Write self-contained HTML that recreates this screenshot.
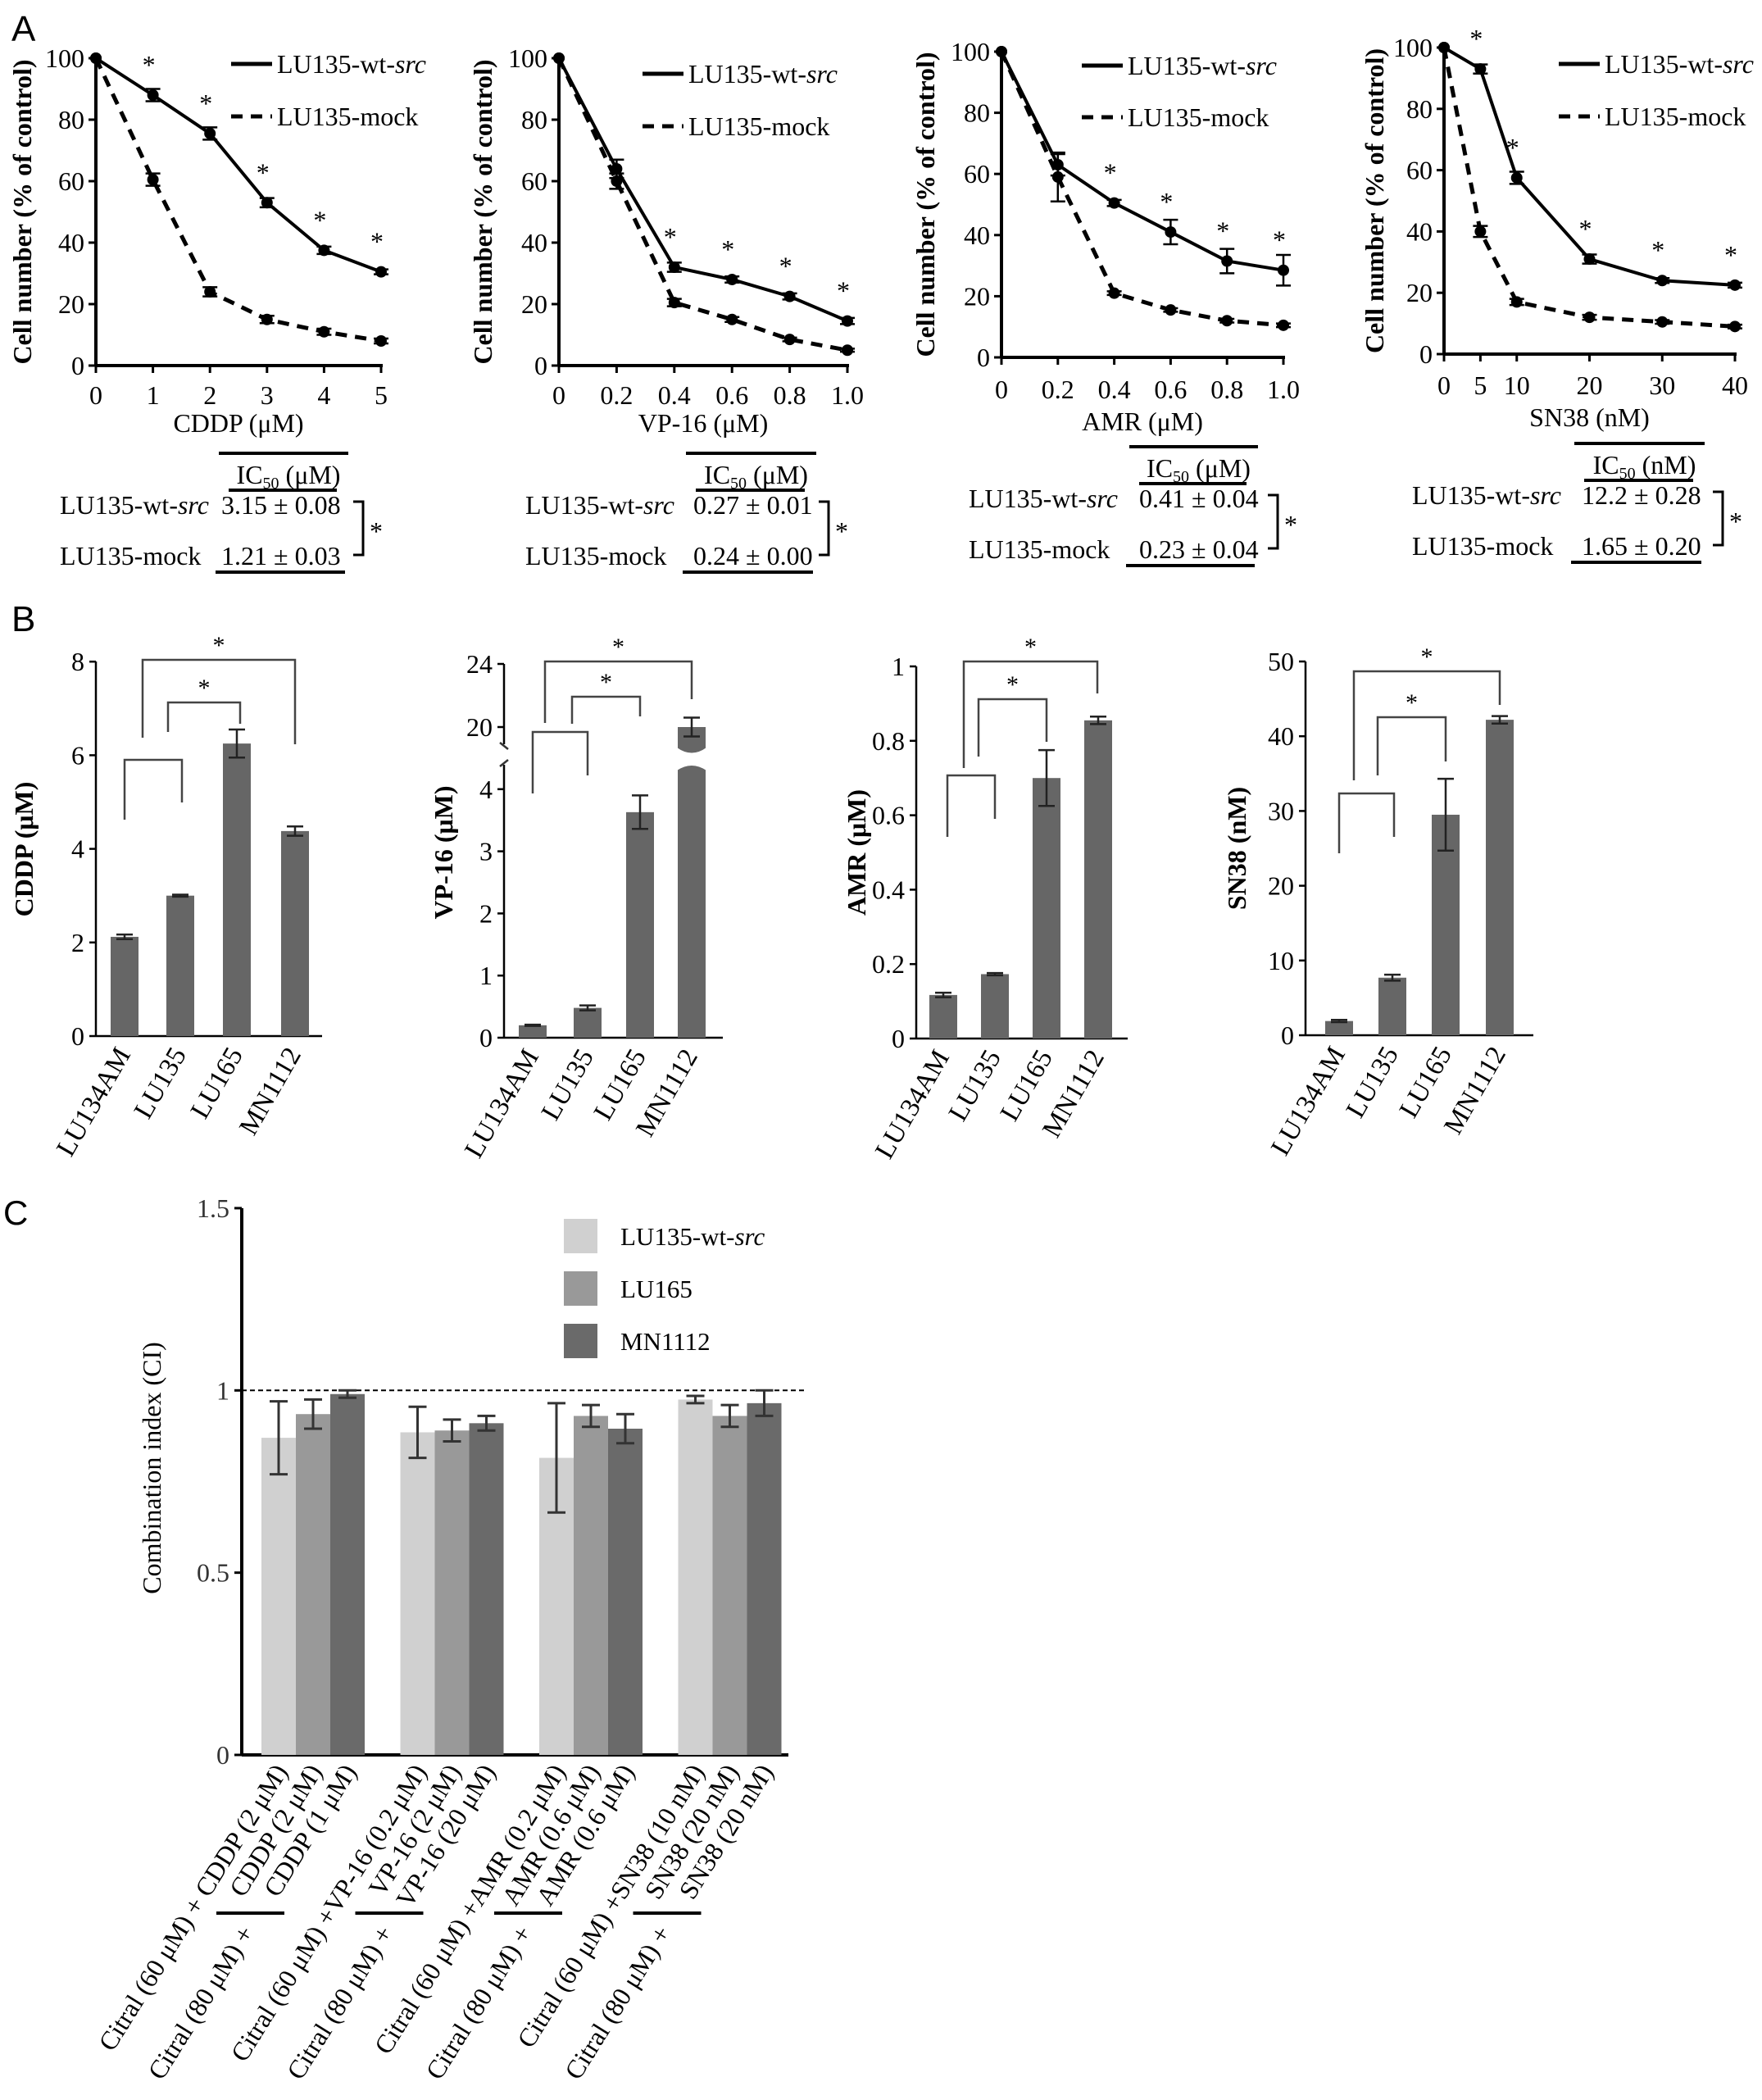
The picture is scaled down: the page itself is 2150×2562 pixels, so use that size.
<!DOCTYPE html>
<html><head><meta charset="utf-8"><style>
html,body{margin:0;padding:0;background:#fff;}
svg{display:block;font-family:"Liberation Serif",serif;}
</style></head>
<body>
<svg id="fig" xmlns="http://www.w3.org/2000/svg" width="2150" height="2562" viewBox="0 0 2150 2562">
<rect width="2150" height="2562" fill="#fff"/>
<text x="14" y="50" font-family="Liberation Sans,sans-serif" font-size="44">A</text>
<text x="14" y="770" font-family="Liberation Sans,sans-serif" font-size="44">B</text>
<text x="4" y="1494" font-family="Liberation Sans,sans-serif" font-size="42">C</text>
</svg>
<script>
// ---------- Panel A data ----------
const aXCddp = [0,1,2,3,4,5];
const aWtCddp = [100,88,75.5,53,37.5,30.5];
const aMockCddp = [100,60.5,24,15,11,8];
const aWtErrCddp = [0,2,2,1.5,1.2,0.8];
const aMockErrCddp = [0,2,1.5,1.2,1,0.8];
const aXVp = [0,0.2,0.4,0.6,0.8,1.0];
const aWtVp = [100,64,32,28,22.5,14.5];
const aMockVp = [100,60,20.5,15,8.5,5];
const aWtErrVp = [0,3,1.5,1,1,1];
const aMockErrVp = [0,2.5,1.2,0.8,0.6,0.5];
const aXAmr = [0,0.2,0.4,0.6,0.8,1.0];
const aWtAmr = [100,63,50.5,41,31.5,28.5];
const aMockAmr = [100,59,21,15.5,12,10.5];
const aWtErrAmr = [0,3.5,1,4,4,5];
const aMockErrAmr = [0,8,0.6,0.6,0.6,0.6];
const aXSn = [0,5,10,20,30,40];
const aWtSn = [100,93,57.5,31,24,22.5];
const aMockSn = [100,40,17,12,10.5,9];
const aWtErrSn = [0,1.5,2,1.5,0.8,0.8];
const aMockErrSn = [0,1.8,1,0.8,0.6,0.6];
const aYTicks = [0,20,40,60,80,100];
const aTickCddp = ["0","1","2","3","4","5"];
const aTickVp = ["0","0.2","0.4","0.6","0.8","1.0"];
const aTickSn = ["0","5","10","20","30","40"];
// ---------- Panel B data ----------
const bCats = ["LU134AM","LU135","LU165","MN1112"];
const bCddp = [2.12,3.0,6.25,4.38];
const bCddpErr = [0.05,0.02,0.3,0.1];
const bVp = [0.2,0.48,3.63,20];
const bVpErr = [0.01,0.04,0.27,0.6];
const bAmr = [0.117,0.173,0.70,0.855];
const bAmrErr = [0.006,0.003,0.075,0.01];
const bSn = [1.9,7.7,29.5,42.2];
const bSnErr = [0.15,0.4,4.8,0.5];
// ---------- Panel C data ----------
const cWt = [0.87,0.885,0.815,0.975];
const cWtErr = [0.1,0.07,0.15,0.01];
const cLu165 = [0.935,0.89,0.93,0.93];
const cLu165Err = [0.04,0.03,0.03,0.03];
const cMn = [0.99,0.91,0.895,0.965];
const cMnErr = [0.01,0.02,0.04,0.035];
const cYTicks = [0,0.5,1,1.5];
const cYTickLabels = ["0","0.5","1","1.5"];
const cFirstLabels = ["Citral (60 \u03bcM) + CDDP (2 \u03bcM)","Citral (60 \u03bcM) +VP-16 (0.2 \u03bcM)","Citral (60 \u03bcM) +AMR (0.2 \u03bcM)","Citral (60 \u03bcM) +SN38 (10 nM)"];
const cSecondLabels = ["CDDP (2 \u03bcM)","VP-16 (2 \u03bcM)","AMR (0.6 \u03bcM)","SN38 (20 nM)"];
const cThirdLabels = ["CDDP (1 \u03bcM)","VP-16 (20 \u03bcM)","AMR (0.6 \u03bcM)","SN38 (20 nM)"];

const NS="http://www.w3.org/2000/svg";
const svg=document.getElementById('fig');
function el(tag,attrs,parent){const e=document.createElementNS(NS,tag);for(const k in attrs)e.setAttribute(k,attrs[k]);(parent||svg).appendChild(e);return e;}
function txt(s,attrs,parent){const e=el('text',attrs,parent);e.textContent=s;return e;}
function tsp(s,attrs,parent){const e=el('tspan',attrs,parent);e.textContent=s;return e;}
function line(x1,y1,x2,y2,w,parent,extra){const a={x1,y1,x2,y2,stroke:'#000','stroke-width':w};if(extra)for(const k in extra)a[k]=extra[k];return el('line',a,parent);}
function wtLabel(attrs,parent){const t=el('text',attrs,parent);tsp('LU135-wt-',{},t);tsp('src',{'font-style':'italic'},t);return t;}

// ---------- Panel A ----------
function lineChart(cfg){
  const g=el('g',{});
  
  
  const xs=v=>cfg.x0+(v-cfg.xmin)/(cfg.xmax-cfg.xmin)*(cfg.x1-cfg.x0);
  const ys=v=>cfg.y0-v/100*(cfg.y0-cfg.y100);
  line(cfg.x0,cfg.y100-2,cfg.x0,cfg.y0,4,g);
  line(cfg.x0,cfg.y0,cfg.x1+2,cfg.y0,4,g);
  aYTicks.forEach(t=>{line(cfg.x0-9,ys(t),cfg.x0,ys(t),3,g);
    const tl=txt(String(t),{x:cfg.x0-14,y:ys(t)+11,'font-size':32,'text-anchor':'end'},g);
    });
  cfg.xv.forEach((v,i)=>{line(xs(v),cfg.y0,xs(v),cfg.y0+9,3,g);
    const tl=txt(cfg.tickLabels[i],{x:xs(v),y:cfg.tickY,'font-size':32,'text-anchor':'middle'},g);
    });
  const xt=txt(cfg.xTitle,{x:(cfg.x0+cfg.x1)/2,y:cfg.titleY,'font-size':32,'text-anchor':'middle'},g);
  
  const yt=txt('Cell number (% of control)',{x:0,y:0,'font-size':32,'font-weight':'bold','text-anchor':'middle',transform:`translate(${cfg.yTitleX},${(cfg.y0+cfg.y100)/2}) rotate(-90)`},g);
  
  function series(vals,errs,dash,nm){
    const pts=cfg.xv.map((v,i)=>xs(v)+','+ys(vals[i])).join(' ');
    const p=el('polyline',{points:pts,fill:'none',stroke:'#000','stroke-width':dash?5:4,'stroke-dasharray':dash?'14 10':'none'},g);
    
    cfg.xv.forEach((v,i)=>{
      const c=el('circle',{cx:xs(v),cy:ys(vals[i]),r:7,fill:'#000'},g);
      
      if(errs[i]>0){const x=xs(v),a=ys(vals[i]+errs[i]),b=ys(vals[i]-errs[i]);
        line(x,a,x,b,2.5,g);line(x-9,a,x+9,a,2.5,g);line(x-9,b,x+9,b,2.5,g);}
    });
  }
  series(cfg.mock,cfg.mockErr,true,'mock');
  series(cfg.wt,cfg.wtErr,false,'wt-src');
  cfg.xv.forEach((v,i)=>{if(i>=cfg.starFrom){const s=txt('*',{x:xs(v)-5,y:ys(cfg.wt[i])-26,'font-size':32,'text-anchor':'middle'},g);
    }});
  const L=cfg.leg;
  line(L.x,L.y1,L.x+50,L.y1,5,g);
  line(L.x,L.y2,L.x+50,L.y2,5,g,{'stroke-dasharray':'14 10'});
  const l1=wtLabel({x:L.x+56,y:L.y1+11,'font-size':32},g);
  
  const l2=txt('LU135-mock',{x:L.x+56,y:L.y2+11,'font-size':32},g);
  
  const T=cfg.tab;
  const tg=el('g',{},g);
  
  line(T.lx0,T.top,T.lx1,T.top,4,tg);
  const h=el('text',{x:(T.lx0+T.lx1)/2+6,y:T.top+37,'font-size':32,'text-anchor':'middle'},tg);
  tsp('IC',{},h);tsp('50',{'font-size':20,dy:6},h);tsp(' ('+T.unit+')',{dy:-6},h);
  line(T.lx0+12,T.top+45,T.lx1-14,T.top+45,4,tg);
  wtLabel({x:T.labX,y:T.top+74,'font-size':32},tg);
  txt('LU135-mock',{x:T.labX,y:T.top+136,'font-size':32},tg);
  txt(T.v1,{x:T.valX,y:T.top+74,'font-size':32},tg);
  txt(T.v2,{x:T.valX,y:T.top+136,'font-size':32},tg);
  line(T.lx0-4,T.top+145,T.lx1-4,T.top+145,4,tg);
  el('polyline',{points:`${T.bx-12},${T.top+59} ${T.bx},${T.top+59} ${T.bx},${T.top+124} ${T.bx-12},${T.top+124}`,fill:'none',stroke:'#000','stroke-width':3},tg);
  txt('*',{x:T.bx+16,y:T.top+106,'font-size':32,'text-anchor':'middle'},tg);
}
lineChart({name:'chart-a-cddp',starFrom:1,x0:117,x1:465,xmin:0,xmax:5,y0:446,y100:71,xv:aXCddp,tickLabels:aTickCddp,wt:aWtCddp,mock:aMockCddp,wtErr:aWtErrCddp,mockErr:aMockErrCddp,xTitle:'CDDP (\u03bcM)',tickY:493,titleY:527,yTitleX:38,
  leg:{x:282,y1:78,y2:142},tab:{top:553,lx0:267,lx1:425,labX:73,valX:270,bx:443,unit:'\u03bcM',v1:'3.15 \u00b1 0.08',v2:'1.21 \u00b1 0.03'}});
lineChart({name:'chart-a-vp16',starFrom:2,x0:682,x1:1034,xmin:0,xmax:1,y0:446,y100:71,xv:aXVp,tickLabels:aTickVp,wt:aWtVp,mock:aMockVp,wtErr:aWtErrVp,mockErr:aMockErrVp,xTitle:'VP-16 (\u03bcM)',tickY:493,titleY:527,yTitleX:600,
  leg:{x:784,y1:90,y2:154},tab:{top:553,lx0:837,lx1:996,labX:641,valX:846,bx:1011,unit:'\u03bcM',v1:'0.27 \u00b1 0.01',v2:'0.24 \u00b1 0.00'}});
lineChart({name:'chart-a-amr',starFrom:2,x0:1222,x1:1566,xmin:0,xmax:1,y0:436,y100:63,xv:aXAmr,tickLabels:aTickVp,wt:aWtAmr,mock:aMockAmr,wtErr:aWtErrAmr,mockErr:aMockErrAmr,xTitle:'AMR (\u03bcM)',tickY:486,titleY:525,yTitleX:1140,
  leg:{x:1320,y1:80,y2:143},tab:{top:545,lx0:1378,lx1:1535,labX:1182,valX:1390,bx:1559,unit:'\u03bcM',v1:'0.41 \u00b1 0.04',v2:'0.23 \u00b1 0.04'}});
lineChart({name:'chart-a-sn38',starFrom:1,x0:1762,x1:2117,xmin:0,xmax:40,y0:432,y100:58,xv:aXSn,tickLabels:aTickSn,wt:aWtSn,mock:aMockSn,wtErr:aWtErrSn,mockErr:aMockErrSn,xTitle:'SN38 (nM)',tickY:481,titleY:520,yTitleX:1688,
  leg:{x:1902,y1:78,y2:142},tab:{top:541,lx0:1921,lx1:2080,labX:1723,valX:1930,bx:2102,unit:'nM',v1:'12.2 \u00b1 0.28',v2:'1.65 \u00b1 0.20'}});

// ---------- Panel B ----------
function barChart(cfg){
  const g=el('g',{});
  
  
  const ys=cfg.ys;
  if(cfg.broken){
    line(cfg.x0,cfg.yTop,cfg.x0,908,2.5,g);
    line(cfg.x0,933,cfg.x0,cfg.yZero,2.5,g);
    el('path',{d:`M${cfg.x0-5},906 l10,8 M${cfg.x0-5},935 l10,-8`,stroke:'#333','stroke-width':2.5,fill:'none'},g);
  } else line(cfg.x0,cfg.yTop,cfg.x0,cfg.yZero,2.5,g);
  line(cfg.x0,cfg.yZero,cfg.xEnd,cfg.yZero,2.5,g);
  cfg.ticks.forEach((t,i)=>{line(cfg.x0-8,ys(t),cfg.x0,ys(t),2.5,g);
    const tl=txt(cfg.tickLabels[i],{x:cfg.x0-14,y:ys(t)+11,'font-size':32,'text-anchor':'end'},g);
    });
  const yt=txt(cfg.yTitle,{x:0,y:0,'font-size':32,'font-weight':'bold','text-anchor':'middle',transform:`translate(${cfg.yTitleX},${cfg.yTitleY}) rotate(-90)`},g);
  
  const bw=34;
  bCats.forEach((c,i)=>{
    const cx=cfg.cx[i];
    const r=el('rect',{x:cx-bw/2,y:ys(cfg.vals[i]),width:bw,height:cfg.yZero-ys(cfg.vals[i]),fill:'#666'},g);
    
    if(cfg.broken && cfg.vals[i]>4.3){
      el('path',{d:`M${cx-bw/2-1},912 Q${cx},925 ${cx+bw/2+1},912 L${cx+bw/2+1},940 Q${cx},928 ${cx-bw/2-1},940 Z`,fill:'#fff'},g);
    }
    const a=ys(cfg.vals[i]+cfg.errs[i]),b=ys(cfg.vals[i]-cfg.errs[i]);
    line(cx,a,cx,b,2.5,g,{stroke:'#222'});line(cx-10,a,cx+10,a,2.5,g,{stroke:'#222'});line(cx-10,b,cx+10,b,2.5,g,{stroke:'#222'});
    const tl=txt(c,{x:0,y:0,'font-size':33,'text-anchor':'end',transform:`translate(${cx+8},${cfg.yZero+22}) rotate(-60)`},g);
    
  });
  cfg.brackets.forEach(bk=>{
    const p=el('polyline',{points:`${bk[0]},${bk[2]} ${bk[0]},${bk[3]} ${bk[1]},${bk[3]} ${bk[1]},${bk[4]}`,fill:'none',stroke:'#444','stroke-width':2.5},g);
    
    if(bk[5]){const s=txt('*',{x:(bk[0]+bk[1])/2,y:bk[3]-8,'font-size':30,'text-anchor':'middle'},g);
      }
  });
}
barChart({name:'chart-b-cddp',x0:117,xEnd:393,yZero:1264,yTop:807,ys:v=>1264-v*57.1,ticks:[0,2,4,6,8],tickLabels:["0","2","4","6","8"],
  vals:bCddp,errs:bCddpErr,cx:[152,220,289,360],yTitle:'CDDP (\u03bcM)',yTitleX:40,yTitleY:1036,
  brackets:[[152,222,1000,927,979,false],[205,293,893,857,883,true],[174,360,900,805,908,true]]});
barChart({name:'chart-b-vp16',x0:615,xEnd:882,yZero:1266,yTop:810,broken:true,ys:v=>v<=4.5?1266-v*75.8:887-(v-20)*19.25,ticks:[0,1,2,3,4,20,24],tickLabels:["0","1","2","3","4","20","24"],
  vals:bVp,errs:bVpErr,cx:[650,717,781,844],yTitle:'VP-16 (\u03bcM)',yTitleX:552,yTitleY:1040,
  brackets:[[650,717,968,893,946,false],[698,781,883,850,874,true],[665,844,882,807,853,true]]});
barChart({name:'chart-b-amr',x0:1118,xEnd:1376,yZero:1267,yTop:813,ys:v=>1267-v*454,ticks:[0,0.2,0.4,0.6,0.8,1],tickLabels:["0","0.2","0.4","0.6","0.8","1"],
  vals:bAmr,errs:bAmrErr,cx:[1151,1214,1277,1340],yTitle:'AMR (\u03bcM)',yTitleX:1056,yTitleY:1040,
  brackets:[[1156,1214,1021,946,999,false],[1194,1277,923,853,905,true],[1176,1339,937,807,846,true]]});
barChart({name:'chart-b-sn38',x0:1593,xEnd:1871,yZero:1263,yTop:807,ys:v=>1263-v*9.12,ticks:[0,10,20,30,40,50],tickLabels:["0","10","20","30","40","50"],
  vals:bSn,errs:bSnErr,cx:[1634,1699,1764,1830],yTitle:'SN38 (nM)',yTitleX:1520,yTitleY:1035,
  brackets:[[1634,1701,1041,968,1021,false],[1681,1764,946,875,929,true],[1652,1830,952,819,860,true]]});

// ---------- Panel C ----------
(function(){
  const g=el('g',{});
  
  
  const y0=2141,per=444.7,ys=v=>y0-v*per;
  line(295,ys(1.5),295,y0,4,g);
  line(295,y0,962,y0,4,g);
  line(295,ys(1),985,ys(1),2,g,{'stroke-dasharray':'6 4'});
  cYTicks.forEach((t,i)=>{line(286,ys(t),295,ys(t),3,g);
    const tl=txt(cYTickLabels[i],{x:280,y:ys(t)+11,'font-size':32,'text-anchor':'end',fill:'#333'},g);
    });
  const yt=txt('Combination index (CI)',{x:0,y:0,'font-size':32,'text-anchor':'middle',transform:'translate(196,1791) rotate(-90)'},g);
  
  const series=[[cWt,cWtErr,'#d0d0d0','wt-src'],[cLu165,cLu165Err,'#999','lu165'],[cMn,cMnErr,'#6a6a6a','mn1112']];
  const bw=42,gap=169.5,start=319;
  for(let gi=0;gi<4;gi++){
    const gx=start+gi*gap;
    series.forEach((s,si)=>{
      const x=gx+si*bw,v=s[0][gi],e=s[1][gi];
      const r=el('rect',{x:x,y:ys(v),width:bw,height:y0-ys(v),fill:s[2]},g);
      
      const cx=x+bw/2,a=ys(v+e),b=ys(v-e);
      line(cx,a,cx,b,3,g,{stroke:'#333'});line(cx-11,a,cx+11,a,3,g,{stroke:'#333'});line(cx-11,b,cx+11,b,3,g,{stroke:'#333'});
    });
    const labs=[cFirstLabels[gi],cSecondLabels[gi],cThirdLabels[gi]];
    labs.forEach((L,li)=>{
      const cx=gx+li*bw+bw/2;
      const t=txt(L,{x:0,y:0,'font-size':32,'text-anchor':'end',transform:`translate(${cx+12},${y0+20}) rotate(-58)`},g);
      
    });
    line(gx-55,2334,gx+28,2334,4,g);
    const t2=txt('Citral (80 \u03bcM) +',{x:0,y:0,'font-size':32,'text-anchor':'end',transform:`translate(${gx-8},${2358}) rotate(-58)`},g);
    
  }
  const legNames=['LU135-wt-src','LU165','MN1112'];
  series.forEach((s,i)=>{
    const y=1487+i*64;
    const r=el('rect',{x:688,y:y,width:41,height:42,fill:s[2]},g);
    
    let t;
    if(i===0)t=wtLabel({x:757,y:y+32,'font-size':31},g);
    else t=txt(legNames[i],{x:757,y:y+32,'font-size':31},g);
    
  });
})();
</script>
</body></html>
